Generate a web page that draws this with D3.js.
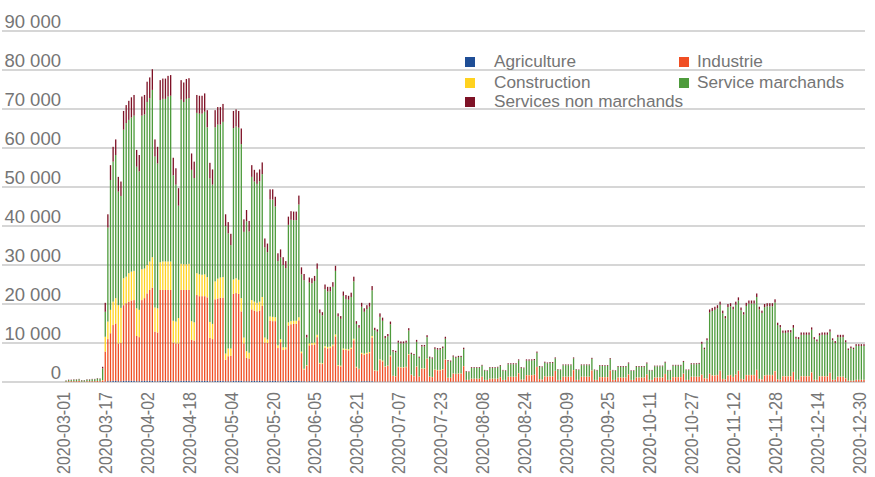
<!DOCTYPE html>
<html>
<head>
<meta charset="utf-8">
<script src="https://cdn.jsdelivr.net/npm/d3@7"></script>
<style>
  body { margin: 0; background: #fff; }
  svg { display: block; }
  .lbl { font-family: "Liberation Sans", Arial, sans-serif; fill: #757575; }
  .xlbl { font-family: "Liberation Sans", Arial, sans-serif; fill: #767676; }
</style>
</head>
<body>
<div id="chart"></div>
<script>
// one row per week, starting Sunday 2020-03-01, last row ends Thursday 2020-12-31
var agriculture = [
  0,0,0,0,0,0,0,
  0,0,0,0,0,0,0,
  0,100,200,200,300,300,200,
  200,300,300,300,300,300,200,
  200,300,300,300,300,300,200,
  200,300,300,300,300,300,200,
  200,200,300,300,300,300,200,
  200,300,300,300,300,300,200,
  200,300,300,300,300,200,200,
  200,300,300,300,300,200,200,
  200,300,300,300,300,300,200,
  200,300,300,300,200,200,200,
  200,300,300,300,300,300,200,
  200,100,200,200,200,200,100,
  100,200,200,200,200,200,100,
  100,200,200,200,200,200,100,
  100,200,200,200,200,200,100,
  100,100,100,100,100,100,50,
  50,100,100,100,100,100,50,
  50,100,50,100,100,100,50,
  50,100,100,100,100,100,50,
  50,50,50,50,50,50,30,
  30,40,40,40,40,40,30,
  30,40,40,40,40,40,30,
  30,40,40,40,40,40,30,
  30,40,40,40,40,40,30,
  30,40,40,40,40,40,30,
  30,40,40,40,40,40,30,
  30,40,40,40,40,40,30,
  30,40,40,40,40,40,30,
  30,40,40,40,40,40,30,
  30,40,40,40,40,40,30,
  30,40,40,40,40,40,30,
  30,40,40,40,40,40,30,
  30,40,40,40,40,60,50,
  50,60,60,60,60,60,60,
  60,60,60,60,60,60,60,
  60,60,60,60,60,60,60,
  60,60,60,60,60,60,60,
  50,50,50,50,50,50,50,
  50,50,50,50,50,50,50,
  50,50,50,50,50,50,50,
  50,50,50,50,40,30,30,
  30,40,40,40,40
];

var industrie = [
  100,200,200,200,200,300,100,
  100,200,200,200,200,300,200,
  400,7700,10800,12300,14300,14700,9700,
  9800,19400,19900,20300,20600,20700,11600,
  11300,20700,21200,22400,23300,23900,12700,
  12500,23300,23300,23300,23300,23300,9900,
  9700,9700,23300,23300,23300,23300,10600,
  10400,22000,21700,21700,21700,21400,11100,
  10800,20900,21100,21300,21300,5500,6400,
  6500,22300,22500,22300,17800,9700,6000,
  5800,18300,18000,17800,18000,19200,9900,
  9800,15400,15300,15300,8500,10000,8000,
  8200,14200,14500,14600,14600,15500,7200,
  3000,4000,9200,9300,9400,11300,4600,
  4500,8600,8400,8500,9000,11500,4000,
  3900,8100,8000,7900,8300,10500,3600,
  3200,7000,6800,7000,7200,11200,2800,
  2700,5500,5200,3800,4000,6500,1500,
  1400,3700,3600,3600,3700,6900,1800,
  1400,3800,1300,3300,3300,5800,1300,
  1200,3000,2900,2900,3100,5600,1000,
  1000,2100,2000,2100,2100,4000,500,
  500,800,800,800,800,1300,500,
  500,800,800,800,800,1200,500,
  500,1300,1300,1300,1300,2200,600,
  600,1700,1700,1700,1800,3800,700,
  600,1400,1300,1400,1400,2800,500,
  500,1300,1300,1300,1300,3000,500,
  500,1300,1300,1300,1300,2900,500,
  500,1200,1200,1200,1200,2900,500,
  500,1100,1100,1100,1100,1900,500,
  500,1100,1100,1100,1100,1900,500,
  500,1100,1100,1100,1100,2000,500,
  500,1200,1200,1200,1200,2100,500,
  500,1300,1300,1300,1300,1800,900,
  800,2000,1600,1600,1700,2800,700,
  600,1600,1700,1200,1800,2800,700,
  600,1700,1700,1700,1700,3000,700,
  600,1600,1700,1700,1700,2700,600,
  500,1400,1400,1400,1400,2500,500,
  500,1400,1400,1400,1400,2400,500,
  500,1400,1400,1400,1400,2300,500,
  500,1300,1300,1300,900,300,300,
  300,500,500,500,500
];

var construction = [
  0,0,0,0,0,0,0,
  0,0,0,0,0,0,0,
  100,3800,4500,6000,6000,6500,9800,
  9000,6900,6800,7300,7400,7500,7100,
  7000,7900,7600,7300,7300,7800,6200,
  6200,7100,7300,7300,7300,7300,5600,
  5600,6500,6700,6600,6600,6700,4800,
  4700,5600,5600,5500,5600,5200,4100,
  3900,4600,5100,5200,5300,1600,2000,
  1900,3700,3800,3600,3400,1500,1700,
  1500,2400,2300,2200,2300,2300,1300,
  900,1100,1100,1000,700,800,700,
  500,800,800,800,800,800,400,
  200,200,500,500,500,600,200,
  200,400,400,400,400,500,200,
  200,300,300,300,300,400,200,
  100,300,300,300,300,400,100,
  100,200,200,100,100,200,50,
  50,100,100,100,100,150,50,
  50,100,50,100,100,100,50,
  50,100,100,100,100,100,50,
  50,50,50,50,50,50,20,
  20,30,30,30,30,30,20,
  20,30,30,30,30,30,20,
  20,40,40,40,40,40,20,
  20,40,40,40,40,40,20,
  20,40,40,40,40,40,20,
  20,40,40,40,40,40,20,
  20,40,40,40,40,40,20,
  20,40,40,40,40,40,20,
  20,40,40,40,40,40,20,
  20,40,40,40,40,40,20,
  20,40,40,40,40,40,20,
  20,40,40,40,40,40,20,
  20,40,40,40,40,60,40,
  40,60,60,60,60,60,40,
  40,60,60,50,60,60,40,
  40,60,60,60,60,60,40,
  40,60,60,60,60,60,40,
  30,50,50,50,50,50,30,
  30,50,50,50,50,50,30,
  30,50,50,50,50,50,30,
  30,50,50,50,40,20,20,
  20,30,30,30,30
];

var serviceMarchands = [
  200,300,300,400,400,400,300,
  300,400,400,500,500,600,600,
  3000,6400,24100,33300,35900,36700,29100,
  28700,38100,39400,39300,39500,39800,36300,
  35500,39400,39500,41800,41900,42900,38700,
  37100,41600,41700,41700,42300,42500,37300,
  35100,28800,42100,41600,42400,42500,38800,
  37000,41100,41200,41300,41700,38400,36800,
  35700,39500,39500,39200,39800,32700,29500,
  26500,38800,38900,39000,39500,27100,33300,
  31100,31600,30800,30500,30900,31500,23100,
  22400,30000,30100,28400,21600,20900,21100,
  20300,25000,26000,25800,25800,28900,19800,
  22700,7100,15600,15300,15800,16900,12800,
  12300,14600,14200,14100,14800,16300,12500,
  12000,13500,12800,12700,13000,14700,11000,
  10500,11800,10700,11200,11600,11700,10300,
  10000,10900,10200,7200,7500,8000,6200,
  6100,6200,6100,6100,6200,6050,5300,
  5400,6300,4800,5600,5600,5500,4800,
  4700,5300,5200,5200,5400,5300,4200,
  4100,4300,4100,4200,4200,4300,2100,
  2000,2730,2730,2730,2730,2830,2400,
  2300,2730,2730,2730,2830,2830,2400,
  2300,3170,3170,3170,3170,3270,2950,
  2850,3720,3720,3720,3720,3620,3150,
  3150,3470,3370,3370,3370,3170,2600,
  2500,2920,2920,2920,2920,2970,2600,
  2500,2920,2920,2920,2920,2970,2500,
  2400,2820,2820,2820,2820,2870,2400,
  2300,2720,2720,2720,2720,2770,2300,
  2300,2720,2720,2720,2720,2770,2400,
  2400,2820,2820,2820,2820,2870,2400,
  2400,2920,2920,2920,2920,2970,2500,
  2500,3170,3170,3170,3270,7880,7410,
  9810,15680,16480,16780,17080,16880,16800,
  15600,17480,17580,17290,17880,17980,17600,
  16600,17680,18280,18280,18280,18680,17800,
  17000,17480,17580,17580,17580,17580,13900,
  13420,11100,11100,11200,11200,11300,10520,
  10420,10600,10600,10600,10600,10900,10420,
  9820,10400,10600,10600,10600,10500,10120,
  9420,10100,10100,10100,9220,7850,8350,
  8050,8680,8680,8680,8680
];

var servicesNonMarchands = [
  100,100,100,100,100,100,100,
  100,100,100,100,100,100,100,
  400,2300,3400,3800,3800,4000,3800,
  3700,4800,4600,4900,5200,5300,4300,
  4200,4900,5000,5200,5300,5300,4400,
  4300,5100,5200,5200,5300,5300,4500,
  4200,4500,5000,5000,5100,5100,4200,
  4200,4600,4600,4600,4700,4400,4000,
  3900,4400,4500,4500,4600,3000,2900,
  2900,4400,4400,4300,4000,3200,2900,
  2700,3000,3000,2900,3000,3000,2300,
  2200,2600,2600,2500,2000,2100,2000,
  1800,2100,2200,2200,2200,2300,1800,
  1600,700,1300,1300,1300,1400,900,
  800,1200,1200,1200,1200,1300,800,
  700,1100,1000,1000,1100,1200,700,
  700,1000,900,1000,1000,1100,600,
  600,900,800,600,600,700,400,
  400,500,500,500,500,600,300,
  300,500,300,400,400,500,300,
  300,400,400,400,400,500,300,
  300,300,300,300,300,400,150,
  150,200,200,200,200,200,150,
  150,200,200,200,200,200,150,
  150,250,250,250,250,250,200,
  200,300,300,300,300,300,200,
  200,250,250,250,250,250,150,
  150,200,200,200,200,250,150,
  150,200,200,200,200,250,150,
  150,200,200,200,200,250,150,
  150,200,200,200,200,250,150,
  150,200,200,200,200,250,150,
  150,200,200,200,200,250,150,
  150,200,200,200,200,250,150,
  150,250,250,250,250,500,400,
  500,800,800,800,800,800,700,
  600,800,800,700,800,800,700,
  600,800,800,800,800,900,700,
  600,800,800,800,800,800,600,
  600,600,600,600,600,700,500,
  500,600,600,600,600,600,500,
  500,600,600,600,600,600,500,
  500,600,600,600,500,400,400,
  400,450,450,450,450
];

var xTickLabels = ["2020-03-01","2020-03-17","2020-04-02","2020-04-18","2020-05-04",
  "2020-05-20","2020-06-05","2020-06-21","2020-07-07","2020-07-23","2020-08-08",
  "2020-08-24","2020-09-09","2020-09-25","2020-10-11","2020-10-27","2020-11-12",
  "2020-11-28","2020-12-14","2020-12-30"];
var yTicks = [0,10000,20000,30000,40000,50000,60000,70000,80000,90000];

var seriesNames = ["Agriculture","Industrie","Construction","Service marchands","Services non marchands"];
var seriesColors = ["#1f4e96","#f04e23","#ffd21f","#4e9b3c","#7e1226"];

var width = 875, height = 477;
var fmtDay = d3.timeFormat("%Y-%m-%d");
var days = d3.timeDay.range(new Date(2020,2,1), new Date(2021,0,1)).map(fmtDay);

var rows = days.map(function(d, i) {
  return {
    day: d,
    "Agriculture": agriculture[i],
    "Industrie": industrie[i],
    "Construction": construction[i],
    "Service marchands": serviceMarchands[i],
    "Services non marchands": servicesNonMarchands[i]
  };
});

var svg = d3.select("#chart").append("svg")
  .attr("width", width).attr("height", height);

var x = d3.scaleBand().domain(days).range([64.7, 865.3])
  .paddingInner(0.5).paddingOuter(0.25);
var y = d3.scaleLinear().domain([0, 90000]).range([382, 31]);

var loc = d3.formatLocale({decimal: ",", thousands: " ", grouping: [3], currency: ["", " €"]});
var fmtY = loc.format(",");

// grid
svg.append("g").selectAll("line").data(yTicks).enter().append("line")
  .attr("x1", 2).attr("x2", 865)
  .attr("y1", function(d) { return y(d); })
  .attr("y2", function(d) { return y(d); })
  .attr("stroke", "#c9c9c9").attr("stroke-width", 1.4);

svg.append("g").selectAll("text").data(yTicks).enter().append("text")
  .attr("class", "lbl")
  .attr("x", 61).attr("y", function(d) { return y(d) - 3.5; })
  .attr("text-anchor", "end").attr("font-size", 18.5)
  .text(function(d) { return fmtY(d); });

// bars
var stack = d3.stack().keys(seriesNames);
var layers = stack(rows);

svg.append("g").selectAll("g").data(layers).enter().append("g")
  .attr("fill", function(d, i) { return seriesColors[i]; })
  .selectAll("rect").data(function(d) { return d; }).enter().append("rect")
  .attr("x", function(d) { return x(d.data.day); })
  .attr("width", x.bandwidth())
  .attr("y", function(d) { return y(d[1]); })
  .attr("height", function(d) { return Math.max(0, y(d[0]) - y(d[1])); });

// x axis (labels squeezed like the original narrow face)
var xAxis = d3.axisBottom(x).tickValues(xTickLabels).tickSize(0).tickPadding(0);
var gx = svg.append("g").attr("transform", "translate(0,382)").call(xAxis);
gx.select(".domain").remove();
gx.selectAll("text")
  .attr("class", "xlbl")
  .attr("font-size", 19)
  .attr("text-anchor", "end")
  .attr("transform", "rotate(-90)")
  .attr("x", -10).attr("y", 0).attr("dy", "0.22em")
  .attr("textLength", 82)
  .attr("lengthAdjust", "spacingAndGlyphs");

// legend
var legendPos = [[465, 57], [679, 57], [465, 78], [679, 78], [465, 97]];
var textX = [494, 697, 494, 697, 494];
var lg = svg.append("g");
seriesNames.forEach(function(name, i) {
  lg.append("rect")
    .attr("x", legendPos[i][0]).attr("y", legendPos[i][1])
    .attr("width", 10).attr("height", 10)
    .attr("fill", seriesColors[i]);
  lg.append("text")
    .attr("class", "lbl")
    .attr("x", textX[i]).attr("y", legendPos[i][1] + 10)
    .attr("font-size", 17.2)
    .text(name);
});
</script>
</body>
</html>
